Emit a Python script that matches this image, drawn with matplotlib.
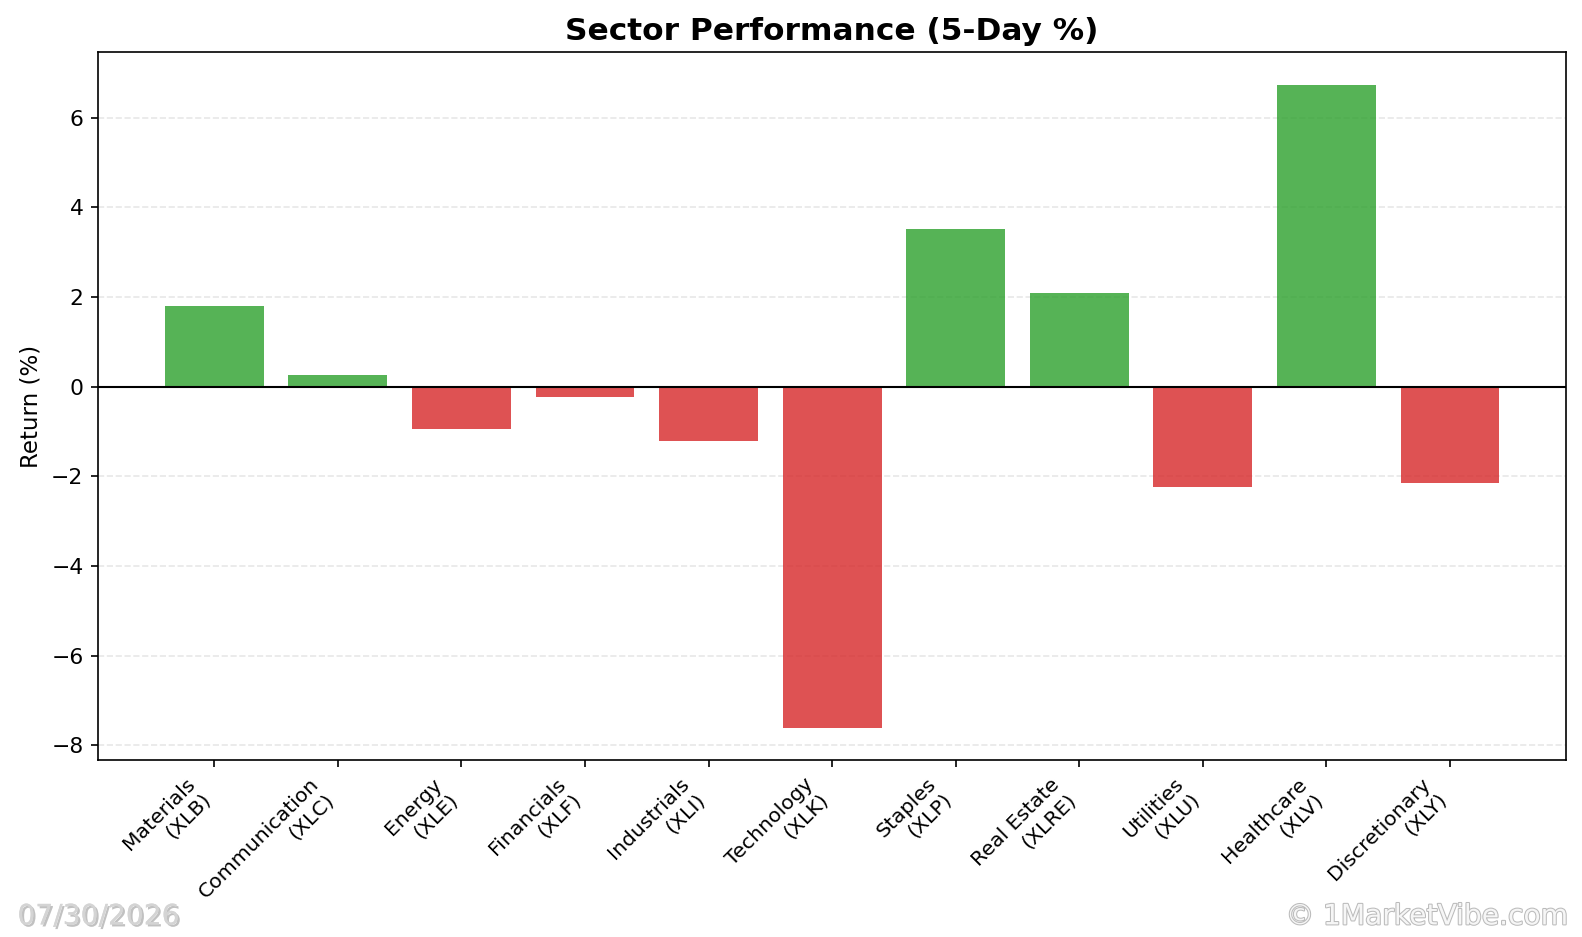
import matplotlib
matplotlib.use("Agg")
import matplotlib.pyplot as plt
import matplotlib.patheffects as pe

# sector returns over the last 5 days
sectors = ["Materials", "Communication", "Energy", "Financials", "Industrials",
           "Technology", "Staples", "Real Estate", "Utilities", "Healthcare",
           "Discretionary"]
tickers = ["XLB", "XLC", "XLE", "XLF", "XLI", "XLK", "XLP", "XLRE", "XLU",
           "XLV", "XLY"]
returns = [1.81, 0.27, -0.94, -0.22, -1.21, -7.61, 3.52, 2.10, -2.23, 6.74, -2.14]

labels = [f"{s}\n({t})" for s, t in zip(sectors, tickers)]
colors = ["tab:green" if r >= 0 else "tab:red" for r in returns]

fig, ax = plt.subplots(figsize=(1582 / 150, 937 / 150), dpi=150)
fig.subplots_adjust(left=0.062, right=0.99, top=0.944, bottom=0.189)

x = range(len(returns))
ax.bar(x, returns, width=0.8, color=colors, alpha=0.8)
ax.axhline(0, color="black", linewidth=1)
ax.grid(axis="y", linestyle="--", alpha=0.3)
ax.set_axisbelow(True)

ax.set_xticks(list(x))
ax.set_xticklabels(labels, rotation=45, ha="right", fontsize=9.8)
ax.tick_params(axis="y", labelsize=10.5)
ax.set_ylabel("Return (%)", fontsize=11)
ax.set_title("Sector Performance (5-Day %)", fontsize=15, fontweight="bold")

# footer stamps
date_fx = [pe.withSimplePatchShadow(offset=(1, -1), shadow_rgbFace="#999999", alpha=0.6),
           pe.Normal()]
mark_fx = [pe.withStroke(linewidth=1.0, foreground="#bbbbbb")]
fig.text(0.011, 0.022, "07/30/2026", fontsize=13.5, color="#d4d4d4",
         ha="left", va="center", path_effects=date_fx)
fig.text(0.991, 0.022, "© 1MarketVibe.com", fontsize=13.5, color="#f6f6f6",
         ha="right", va="center", path_effects=mark_fx)

fig.savefig("out.png", dpi=150)
